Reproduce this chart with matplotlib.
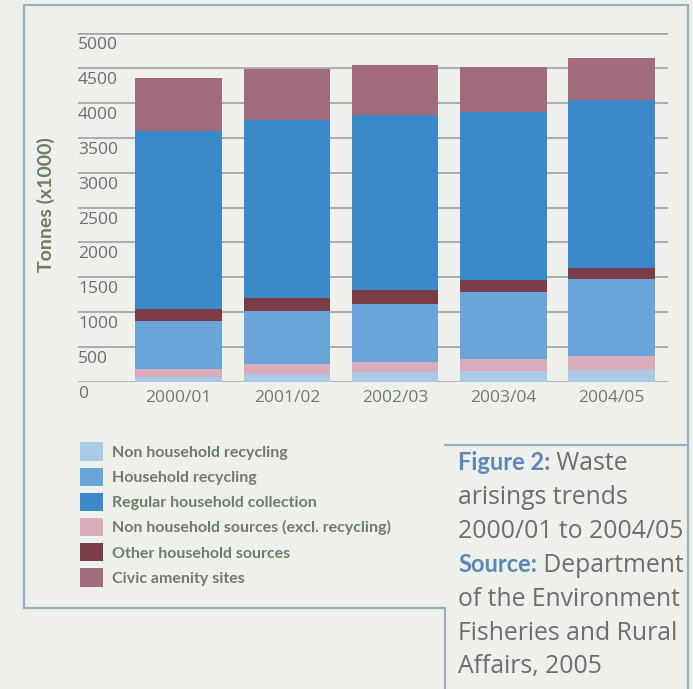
import matplotlib
matplotlib.use("Agg")
import matplotlib.pyplot as plt
import numpy as np
from matplotlib.patches import Patch
from matplotlib.lines import Line2D
from matplotlib.transforms import offset_copy

# data (thousand tonnes)
years = ["2000/01", "2001/02", "2002/03", "2003/04", "2004/05"]
non_household_recycling = [70, 110, 140, 160, 170]
household_recycling = [700, 760, 830, 950, 1110]
regular_collection = [2560, 2550, 2510, 2400, 2400]
non_household_sources = [110, 150, 150, 175, 200]
other_household = [160, 180, 200, 180, 160]
civic_amenity = [750, 730, 715, 655, 600]
y_ticks = [0, 500, 1000, 1500, 2000, 2500, 3000, 3500, 4000, 4500, 5000]

series = [
    ("Non household recycling", non_household_recycling, "#a9c9e6"),
    ("Non household sources (excl. recycling)", non_household_sources, "#d9abbb"),
    ("Household recycling", household_recycling, "#6aa5da"),
    ("Other household sources", other_household, "#7b3c4a"),
    ("Regular household collection", regular_collection, "#3b89c9"),
    ("Civic amenity sites", civic_amenity, "#a26b7b"),
]
legend_order = [0, 2, 4, 1, 3, 5]

BG = "#eef0ec"
FRAME = "#9aaebf"
GRID = "#9ea4a2"
TEXT_GREEN = "#6e7d68"
TEXT_GREY = "#6d6d6d"
BLUE = "#5b88b4"

W, H = 693, 689
fig = plt.figure(figsize=(W / 100, H / 100), dpi=100, facecolor=BG)

def fx(px):
    return px / W

def fy(py):
    return 1 - py / H

ax = fig.add_axes([fx(78), fy(382), fx(668) - fx(78), fy(33) - fy(382)])
ax.set_facecolor(BG)
for s in ax.spines.values():
    s.set_visible(False)

x = np.arange(len(years))
bottom = np.zeros(len(years))
for name, vals, col in series:
    ax.bar(x, vals, width=0.8, bottom=bottom, color=col, zorder=3, linewidth=0)
    bottom += np.array(vals)

ax.set_xlim(-0.93, 4.52)
ax.set_ylim(0, 5000)
label_tr = offset_copy(ax.get_yaxis_transform(), fig=fig, x=0, y=-12, units="dots")
for t in y_ticks:
    ax.axhline(t, color=GRID, lw=1.8 if t in (0, 5000) else 1.2, zorder=1)
    ax.text(0.0, t, str(t), transform=label_tr, ha="left", va="center",
            fontsize=12.5, color=TEXT_GREY, family="Open Sans")
ax.set_yticks([])
ax.set_xticks(x)
ax.set_xticklabels(years, fontsize=12.5, color=TEXT_GREEN, family="Open Sans")
ax.tick_params(axis="x", length=0, pad=6)

fig.text(fx(46), fy(205), "Tonnes (x1000)", rotation=90, ha="center", va="center",
         fontsize=14, fontweight="bold", color=TEXT_GREEN, family="Lato")

handles = [Patch(facecolor=series[i][2], edgecolor="none") for i in legend_order]
labels = [series[i][0] for i in legend_order]
leg = fig.legend(handles, labels, loc="upper left", bbox_to_anchor=(fx(74), fy(436)),
                 frameon=False, prop={"family": "Lato", "weight": "bold", "size": 11.5},
                 handlelength=1.4, handleheight=1.4, labelspacing=0.42, handletextpad=0.55,
                 borderaxespad=0)
for t in leg.get_texts():
    t.set_color(TEXT_GREEN)

# frames
frame_kw = dict(color=FRAME, lw=1.6, transform=fig.transFigure)
fig.add_artist(Line2D([fx(24), fx(24), fx(688), fx(688)], [fy(608), fy(5), fy(5), fy(689)], **frame_kw))
fig.add_artist(Line2D([fx(24), fx(445), fx(445)], [fy(608), fy(608), fy(689)], **frame_kw))
fig.add_artist(Line2D([fx(445), fx(688)], [fy(445), fy(445)], **frame_kw))

# caption
cap_kw = dict(fontsize=17.8, family="Open Sans", va="center")
bold_kw = dict(fontsize=17, family="Lato", va="center", fontweight="bold")
line_h = 34
cap_lines = [
    ("Figure 2:", " Waste"),
    ("", "arisings trends"),
    ("", "2000/01 to 2004/05"),
    ("Source:", " Department"),
    ("", "of the Environment"),
    ("", "Fisheries and Rural"),
    ("", "Affairs, 2005"),
]
fig.canvas.draw()
r = fig.canvas.get_renderer()
for i, (bold, rest) in enumerate(cap_lines):
    ypos = fy(463 + line_h * i)
    x0 = fx(458)
    if bold:
        tb = fig.text(x0, ypos, bold, color=BLUE, **bold_kw)
        x0 = tb.get_window_extent(r).x1 / fig.bbox.width
    fig.text(x0, ypos, rest, color=TEXT_GREY, **cap_kw)

fig.savefig("out.png", dpi=100, facecolor=BG)
